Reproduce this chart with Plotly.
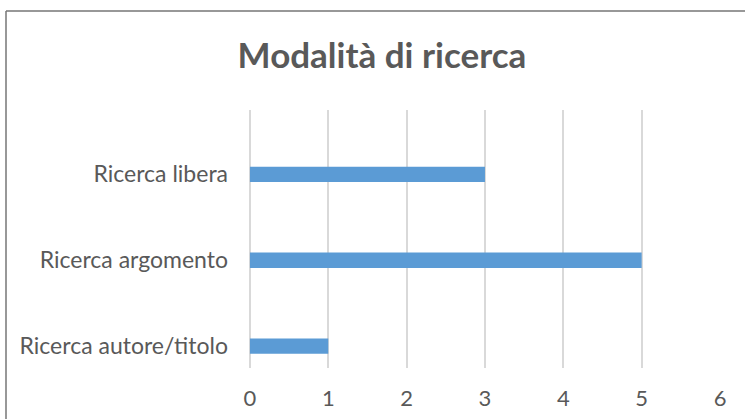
import plotly.graph_objects as go

categories = ["Ricerca autore/titolo", "Ricerca argomento", "Ricerca libera"]
values = [1, 5, 3]
x_ticks = [0, 1, 2, 3, 4, 5, 6]
title_text = "Modalità di ricerca"

TEXT = "#595959"
FONT = "Lato"

fig = go.Figure()
fig.add_trace(go.Bar(
    y=categories, x=values, orientation="h",
    marker=dict(color="#5B9BD5", line=dict(width=0)),
    width=0.18, hoverinfo="x+y",
))

fig.update_layout(
    width=745, height=419,
    margin=dict(l=249, r=25, t=110, b=51, autoexpand=False),
    paper_bgcolor="white", plot_bgcolor="white",
    showlegend=False,
    title=dict(text="<b>" + title_text + "</b>", x=382 / 745, xref="container", xanchor="center",
               y=1 - 56 / 419, yref="container", yanchor="middle",
               font=dict(family=FONT, size=35, color=TEXT)),
    xaxis=dict(range=[-0.012, 6], tickvals=x_ticks, showgrid=True, gridcolor="#D9D9D9", gridwidth=1.5,
               zeroline=True, zerolinecolor="#D9D9D9", zerolinewidth=1.5, showline=False, ticks="",
               tickfont=dict(family=FONT, size=22, color=TEXT), ticklabelstandoff=15),
    yaxis=dict(type="category", categoryorder="array", categoryarray=categories,
               range=[-0.255, 2.75], showgrid=False, zeroline=False, showline=False, ticks="",
               tickfont=dict(family=FONT, size=23, color=TEXT), ticklabelstandoff=20),
    shapes=[
        dict(type="line", xref="paper", yref="paper", x0=(6 - 249) / 471, x1=(800 - 249) / 471,
             y0=(368 - 11) / 258, y1=(368 - 11) / 258, line=dict(color="#767676", width=1.5)),
        dict(type="line", xref="paper", yref="paper", x0=(6 - 249) / 471, x1=(6 - 249) / 471,
             y0=(368 - 11) / 258, y1=(368 - 460) / 258, line=dict(color="#767676", width=1.5)),
    ],
)

fig.write_html("out.html", config={"displayModeBar": False},
               post_script="document.body.style.margin='0';document.body.style.padding='0';")
